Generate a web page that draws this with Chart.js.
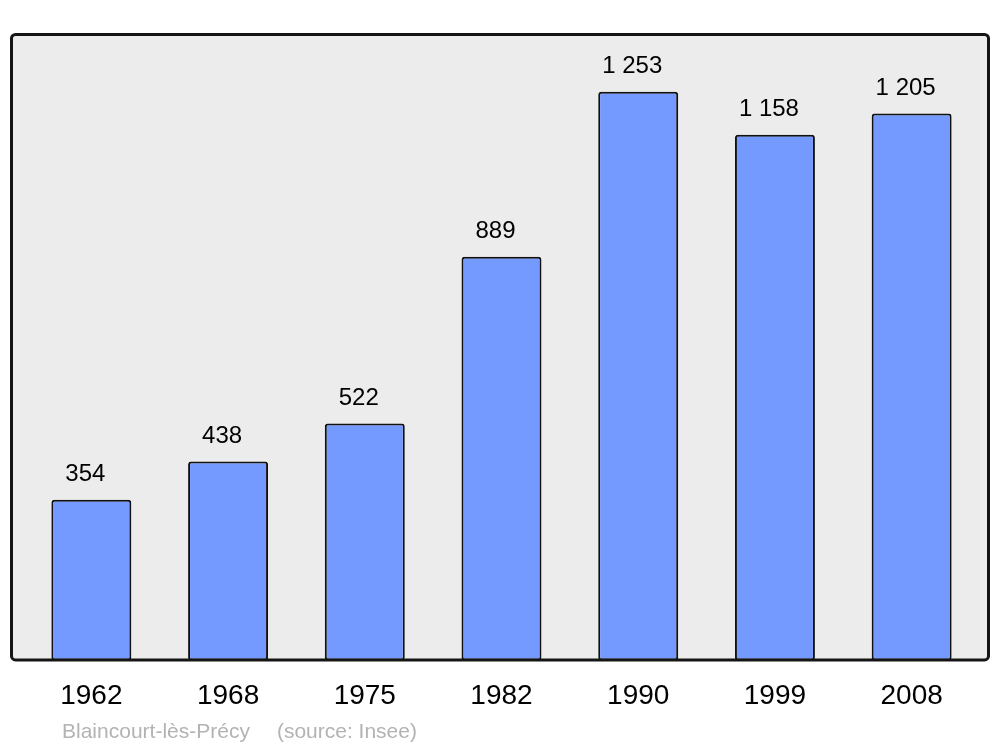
<!DOCTYPE html>
<html>
<head>
<meta charset="utf-8">
<script src="https://cdn.jsdelivr.net/npm/chart.js@4/dist/chart.umd.min.js"></script>
<style>
  html, body { margin: 0; padding: 0; background: #fff; }
  canvas { display: block; }
</style>
</head>
<body>
<canvas id="chart" width="1000" height="747"></canvas>
<script>
// ── DADOS ────────────────────────────────────────────────────────────────────
const years = ['1962', '1968', '1975', '1982', '1990', '1999', '2008']
const population = [354, 438, 522, 889, 1253, 1158, 1205]
const placeName = 'Blaincourt-lès-Précy'
const sourceNote = '(source: Insee)'

const FONT = '"Liberation Sans", Arial, sans-serif'

// 1253 -> "1 253"
function fmtPop(v) {
  return String(v).replace(/\B(?=(\d{3})+(?!\d))/g, ' ')
}

// fundo cinza do painel (antes das barras) e moldura (depois)
const panelPlugin = {
  id: 'panel',
  beforeDatasetsDraw(chart) {
    const { ctx, chartArea: a } = chart
    ctx.save()
    ctx.fillStyle = '#ececec'
    ctx.beginPath()
    ctx.roundRect(a.left - 11.5, a.top + 0.5, a.width + 20, a.height - 1, 4)
    ctx.fill()
    ctx.restore()
  },
  afterDatasetsDraw(chart) {
    const { ctx, chartArea: a } = chart
    ctx.save()
    ctx.strokeStyle = '#151515'
    ctx.lineWidth = 3
    ctx.beginPath()
    ctx.roundRect(a.left - 11.5, a.top + 0.5, a.width + 20, a.height - 1, 4)
    ctx.stroke()
    ctx.restore()
  }
}

// valores acima das barras
const valueLabels = {
  id: 'valueLabels',
  afterDatasetsDraw(chart) {
    const { ctx } = chart
    const meta = chart.getDatasetMeta(0)
    ctx.save()
    ctx.font = '24px ' + FONT
    ctx.fillStyle = '#000'
    ctx.textAlign = 'center'
    ctx.textBaseline = 'alphabetic'
    meta.data.forEach((bar, i) => {
      ctx.fillText(fmtPop(population[i]), bar.x - 6, bar.y - 18.5)
    })
    ctx.restore()
  }
}

// rodapé com nome da comuna e fonte
const footer = {
  id: 'footer',
  afterDraw(chart) {
    const { ctx, chartArea: a } = chart
    ctx.save()
    ctx.font = '21px ' + FONT
    ctx.fillStyle = '#b3b3b3'
    ctx.textAlign = 'left'
    ctx.textBaseline = 'alphabetic'
    const x = a.left + 39
    const y = chart.height - 9
    ctx.fillText(placeName, x, y)
    ctx.fillText(sourceNote, x + ctx.measureText(placeName).width + 27, y)
    ctx.restore()
  }
}

new Chart(document.getElementById('chart'), {
  type: 'bar',
  data: {
    labels: years,
    datasets: [{
      data: population,
      backgroundColor: '#7499ff',
      borderColor: '#111',
      borderWidth: 2,
      borderRadius: 3,
      borderSkipped: false,
      categoryPercentage: 1,
      barPercentage: 0.585
    }]
  },
  options: {
    responsive: false,
    animation: false,
    layout: { padding: { left: 23, right: 20, top: 34, bottom: 15 } },
    plugins: {
      legend: { display: false },
      tooltip: { enabled: false },
      title: { display: false }
    },
    scales: {
      x: {
        grid: { display: false, drawTicks: false },
        border: { display: false },
        ticks: { color: '#000', font: { family: FONT, size: 28 }, padding: 19, maxRotation: 0 }
      },
      y: {
        display: false,
        min: 0,
        max: 1380
      }
    }
  },
  plugins: [panelPlugin, valueLabels, footer]
})
</script>
</body>
</html>
